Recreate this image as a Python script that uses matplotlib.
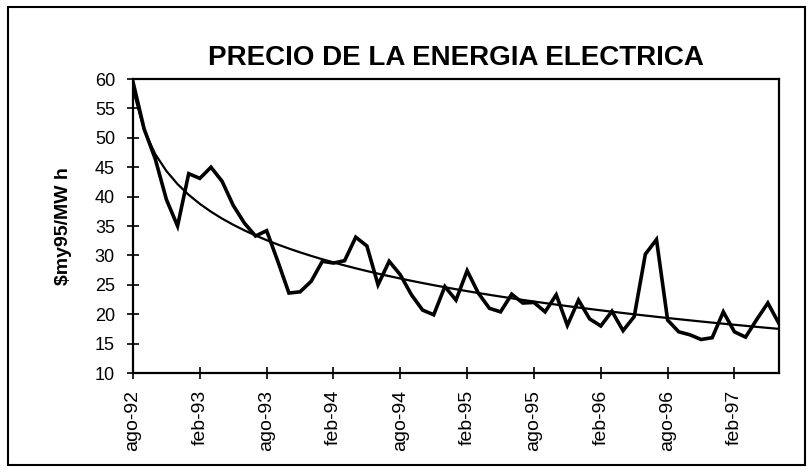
import numpy as np
import matplotlib
matplotlib.use('Agg')
import matplotlib.pyplot as plt
from matplotlib.patches import Rectangle

plt.rcParams['font.family'] = ['Liberation Sans', 'DejaVu Sans']

# monthly price, ago-92 .. jun-97 ($my95/MWh)
precio = [59.5, 51.5, 46.4, 39.5, 35.0, 43.9, 43.1, 45.0, 42.6, 38.5,
          35.5, 33.3, 34.2, 29.0, 23.6, 23.8, 25.6, 29.0, 28.7, 29.1,
          33.1, 31.6, 25.0, 29.0, 26.7, 23.3, 20.7, 19.9, 24.7, 22.4,
          27.4, 23.6, 21.0, 20.4, 23.4, 21.9, 22.0, 20.4, 23.3, 18.1,
          22.4, 19.2, 18.0, 20.5, 17.2, 19.6, 30.2, 32.7, 19.0, 17.0,
          16.5, 15.7, 16.0, 20.4, 17.0, 16.1, 19.1, 21.9, 18.4]
etiquetas = ['ago-92', 'feb-93', 'ago-93', 'feb-94', 'ago-94',
             'feb-95', 'ago-95', 'feb-96', 'ago-96', 'feb-97']

meses = np.arange(len(precio))

# logarithmic trend line, like the spreadsheet one
b, a = np.polyfit(np.log(meses + 1), precio, 1)
tendencia = a + b * np.log(meses + 1)

fig = plt.figure(figsize=(8.12, 4.72), dpi=100)
ax = fig.add_axes([133/812, 1 - 373/472, 646/812, 294/472])

ax.plot(meses, precio, color='black', lw=2.6, solid_joinstyle='miter')
ax.plot(meses, tendencia, color='black', lw=1.6)

ax.set_xlim(0, len(precio) - 1)
ax.set_ylim(10, 60)
ax.set_yticks(range(10, 61, 5))
ax.set_xticks(meses[::6])
ax.set_xticklabels(etiquetas, rotation=90)

ax.tick_params(axis='y', direction='inout', length=8, width=1.2, labelsize=13, pad=9)
ax.tick_params(axis='x', direction='inout', length=8, width=1.2, labelsize=14, pad=8)
for s in ax.spines.values():
    s.set_linewidth(1.6)

ax.set_title('PRECIO DE LA ENERGIA ELECTRICA', fontsize=20, fontweight='bold', pad=10)
ax.set_ylabel('$my95/MW h', fontsize=14, fontweight='bold')
ax.yaxis.set_label_coords(-0.094, 0.5)

# border round the whole chart
fig.patches.append(Rectangle((8/812, 7/472), 797/812, 458/472, transform=fig.transFigure,
                             fill=False, edgecolor='black', lw=1.5))

plt.savefig('out.png', dpi=100)
